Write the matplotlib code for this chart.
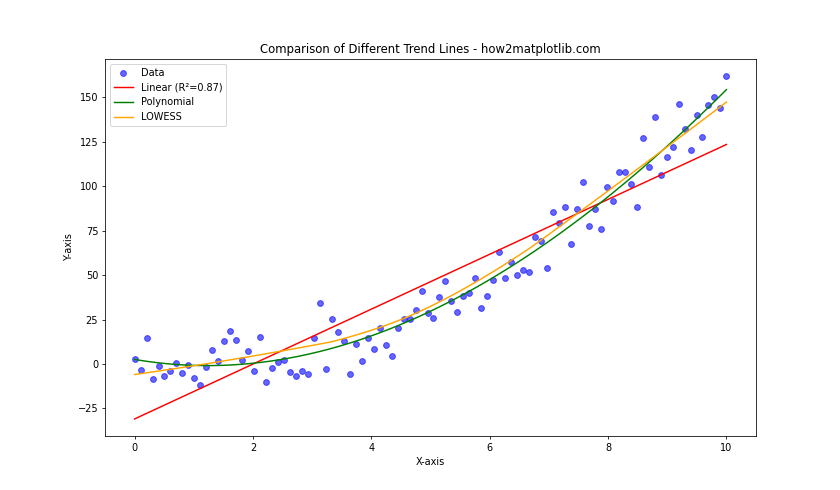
import numpy as np
import matplotlib
matplotlib.use("Agg")
import matplotlib.pyplot as plt

x = np.linspace(0, 10, 100)
y = np.array([
    3.0, -3.2, 14.6, -8.4, -1.0, -6.7, -3.9, 0.7, -5.1, -0.8,
    -7.7, -11.8, -1.7, 7.9, 1.7, 12.9, 18.6, 13.5, 2.4, 7.3,
    -3.9, 15.2, -10.1, -2.2, 1.1, 2.2, -4.5, -6.7, -3.9, -5.6,
    14.6, 34.3, -2.8, 25.3, 18.0, 12.9, -5.6, 11.2, 1.7, 14.6,
    8.4, 20.2, 10.7, 4.5, 20.2, 25.3, 25.3, 30.4, 41.0, 28.7,
    25.9, 37.7, 46.7, 35.4, 29.2, 38.2, 39.9, 48.4, 31.5, 38.2,
    47.2, 63.0, 48.4, 57.3, 50.0, 52.8, 51.7, 71.4, 69.2, 54.0,
    85.5, 79.3, 88.3, 67.5, 87.1, 102.3, 77.6, 87.1, 75.9, 99.5,
    91.6, 107.9, 107.9, 101.2, 88.3, 127.1, 110.8, 138.9, 106.3, 116.4,
    122.0, 146.2, 132.1, 120.3, 140.0, 127.6, 145.6, 150.1, 143.7, 161.9,
])

title = "Comparison of Different Trend Lines - how2matplotlib.com"
r2_label = "Linear (R\u00b2=0.87)"


def lowess(xv, yv, frac=2 / 3, it=3):
    n = len(xv)
    r = int(np.ceil(frac * n))
    h = np.array([np.sort(np.abs(xv - xv[i]))[r - 1] for i in range(n)])
    w = np.clip(np.abs((xv[:, None] - xv[None, :]) / h[None, :]), 0.0, 1.0)
    w = (1 - w ** 3) ** 3
    yest = np.zeros(n)
    delta = np.ones(n)
    for _ in range(it + 1):
        for i in range(n):
            weights = delta * w[:, i]
            A = np.vstack([np.ones(n), xv]).T
            W = np.diag(weights)
            beta = np.linalg.lstsq(A.T @ W @ A, A.T @ W @ yv, rcond=None)[0]
            yest[i] = beta[0] + beta[1] * xv[i]
        res = yv - yest
        s = np.median(np.abs(res))
        delta = np.clip(res / (6.0 * s), -1, 1)
        delta = (1 - delta ** 2) ** 2
    return yest


lin = np.polyfit(x, y, 1)
poly = np.polyfit(x, y, 3)
y_lin = np.polyval(lin, x)
y_poly = np.polyval(poly, x)
y_low = lowess(x, y)

fig, ax = plt.subplots(figsize=(12, 7), dpi=70)
ax.scatter(x, y, color="blue", alpha=0.6, label="Data")
ax.plot(x, y_lin, color="red", label=r2_label)
ax.plot(x, y_poly, color="green", label="Polynomial")
ax.plot(x, y_low, color="orange", label="LOWESS")
ax.set_title(title)
ax.set_xlabel("X-axis")
ax.set_ylabel("Y-axis")
ax.legend(loc="upper left")
fig.savefig("out.png", dpi=70)
